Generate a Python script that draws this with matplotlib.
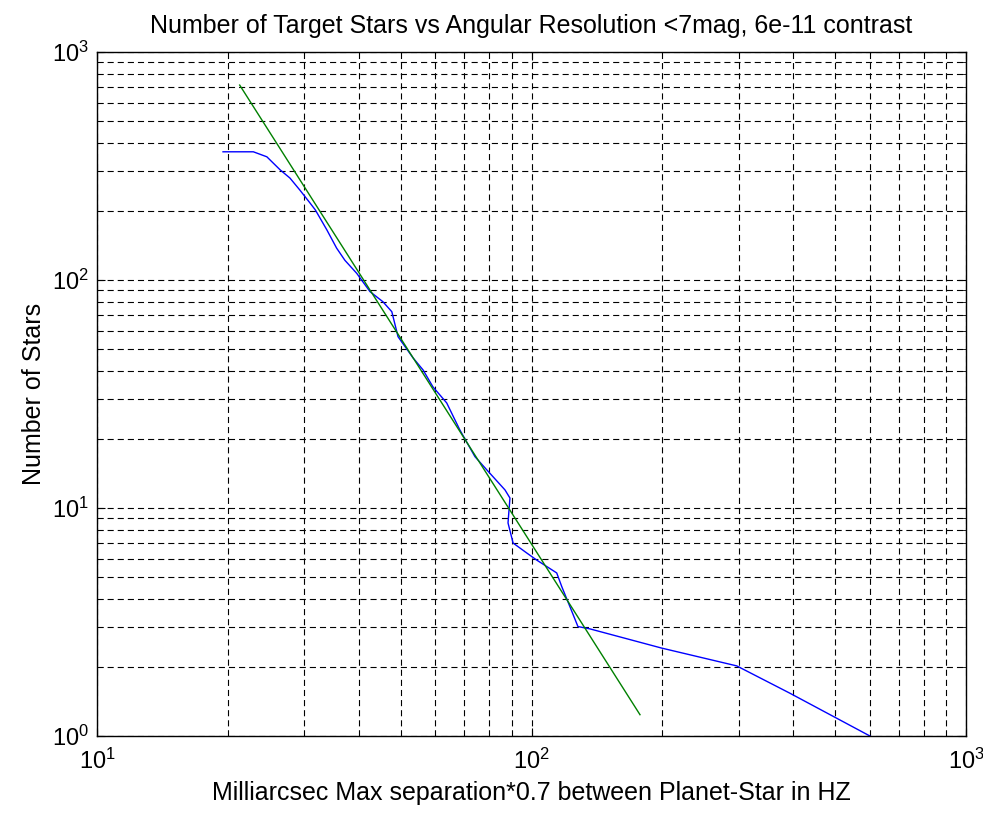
import numpy as np
import matplotlib
matplotlib.use("Agg")
import matplotlib.pyplot as plt

plt.rcParams['font.family'] = ['Liberation Sans', 'DejaVu Sans']
plt.rcParams['mathtext.fontset'] = 'custom'
plt.rcParams['mathtext.rm'] = 'Liberation Sans'
plt.rcParams['mathtext.it'] = 'Liberation Sans'

# cumulative star count vs separation
sep_mas = [19.5, 22.9, 24.6, 26.4, 27.8, 29.3, 30.9, 31.8, 33.8, 35.6, 37.2,
           39.6, 42.5, 45.5, 47.7, 49.3, 53.4, 56.3, 59.3, 63.8, 68.4, 74.1,
           78.9, 86.9, 89.2, 88.3, 90.7, 97.5, 102.8, 114.3, 117.4, 122.6,
           127.9, 136.3, 199.3, 296.7, 393.4, 601.0]
n_stars = [365, 365, 347, 304, 280, 248, 218, 203, 166, 138, 122,
           107, 88.9, 80.3, 72.6, 56.4, 45.5, 40.3, 34.0, 28.9, 22.0, 16.8,
           14.7, 12.0, 11.06, 8.6, 7.02, 6.35, 5.91, 5.19, 4.52, 3.69,
           3.02, 2.95, 2.43, 2.03, 1.54, 1.0]

# power-law fit line endpoints
fit_x = [21.3, 177.7]
fit_y = [716, 1.24]

fig = plt.figure(figsize=(9.83, 8.18), dpi=100)
ax = fig.add_axes([97/983, 82/818, 869/983, 684/818])

ax.loglog(sep_mas, n_stars, color=(0, 0, 1), lw=1.0)
ax.loglog(fit_x, fit_y, color=(0, 0.5, 0), lw=1.0)

ax.set_xlim(10, 1000)
ax.set_ylim(1, 1000)

ax.grid(True, which='both', color='black', lw=0.8, linestyle=(0, (5.5, 3.6)))
ax.tick_params(which='both', direction='in', top=True, right=True, color='black')
ax.tick_params(which='major', length=6, labelsize=17)
ax.tick_params(which='minor', length=4)
ax.tick_params(axis='x', which='major', pad=9)
ax.tick_params(axis='y', which='major', pad=6)
for s in ax.spines.values():
    s.set_linewidth(1.0)

ax.set_title('Number of Target Stars vs Angular Resolution <7mag, 6e-11 contrast',
             fontsize=18, pad=14)
ax.set_xlabel('Milliarcsec Max separation*0.7 between Planet-Star in HZ', fontsize=18, labelpad=5)
ax.set_ylabel('Number of Stars', fontsize=18, labelpad=4)

fig.savefig('out.png', dpi=100)
